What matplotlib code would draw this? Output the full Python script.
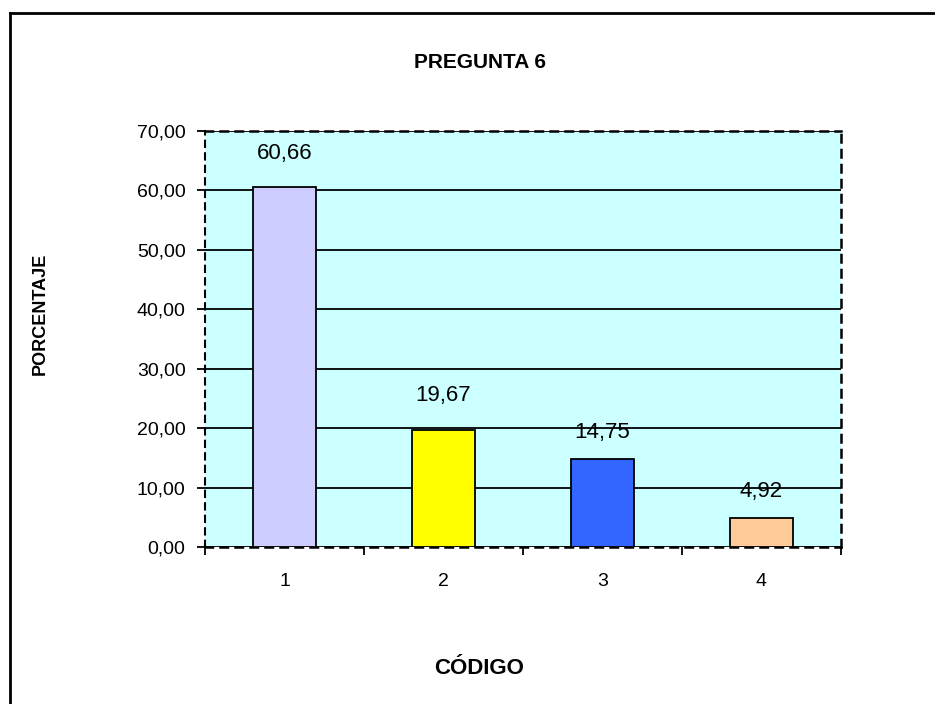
import numpy as np
import matplotlib.pyplot as plt
from matplotlib.lines import Line2D

plt.rcParams['font.family'] = ['Liberation Sans', 'DejaVu Sans']

codigos = ['1', '2', '3', '4']
porcentajes = [60.66, 19.67, 14.75, 4.92]
colores = ['#CCCCFF', '#FFFF00', '#3366FF', '#FFCC99']
yticks = [0, 10, 20, 30, 40, 50, 60, 70]
# label height above bar top, in points
label_offsets = [24, 25, 19, 19]

fig = plt.figure(figsize=(9.35, 7.04), dpi=100)
ax = fig.add_axes([205/935, 1-547/704, (841-205)/935, (547-131)/704])
ax.set_facecolor('#CCFFFF')

x = np.arange(len(codigos))
ax.bar(x, porcentajes, width=0.4, color=colores, edgecolor='black', linewidth=1.3, zorder=3)

for xi, v, off in zip(x, porcentajes, label_offsets):
    ax.annotate(f'{v:.2f}'.replace('.', ','), (xi, v), xytext=(0, off), textcoords='offset points',
                ha='center', va='center', fontsize=16, zorder=4)

ax.set_xlim(-0.5, len(codigos) - 0.5)
ax.set_ylim(0, 70)
ax.set_yticks(yticks)
ax.set_yticklabels([f'{t:.2f}'.replace('.', ',') for t in yticks], fontsize=14)
ax.set_xticks(x)
ax.set_xticklabels(codigos, fontsize=14)
ax.set_xticks(np.arange(-0.5, len(codigos)), minor=True)
ax.tick_params(axis='x', which='major', length=0, pad=19)
ax.tick_params(axis='x', which='minor', length=6, width=1.3, direction='out')
ax.tick_params(axis='y', length=6, width=1.3, direction='out', pad=8)

ax.yaxis.grid(True, color='black', linewidth=1.3, zorder=1)
ax.set_axisbelow(True)

for side in ['top', 'right', 'bottom', 'left']:
    ax.spines[side].set_linestyle((0, (3, 3)))
    ax.spines[side].set_linewidth(1.8)
ax.spines['left'].set_linewidth(1.5)

fig.text(480/935, 1-63/704, 'PREGUNTA 6', ha='center', va='center', fontsize=15, fontweight='bold')
fig.text(479/935, 1-669/704, 'CÓDIGO', ha='center', va='center', fontsize=16, fontweight='bold')
fig.text(40/935, 1-314/704, 'PORCENTAJE', ha='center', va='center', rotation=90,
         fontsize=13, fontweight='bold')

# outer chart frame (left and top edges)
fig.add_artist(Line2D([10/935, 10/935], [0, 1-13/704], color='black', linewidth=2, transform=fig.transFigure))
fig.add_artist(Line2D([10/935, 1], [1-13/704, 1-13/704], color='black', linewidth=2, transform=fig.transFigure))

fig.savefig('out.png', dpi=100)
